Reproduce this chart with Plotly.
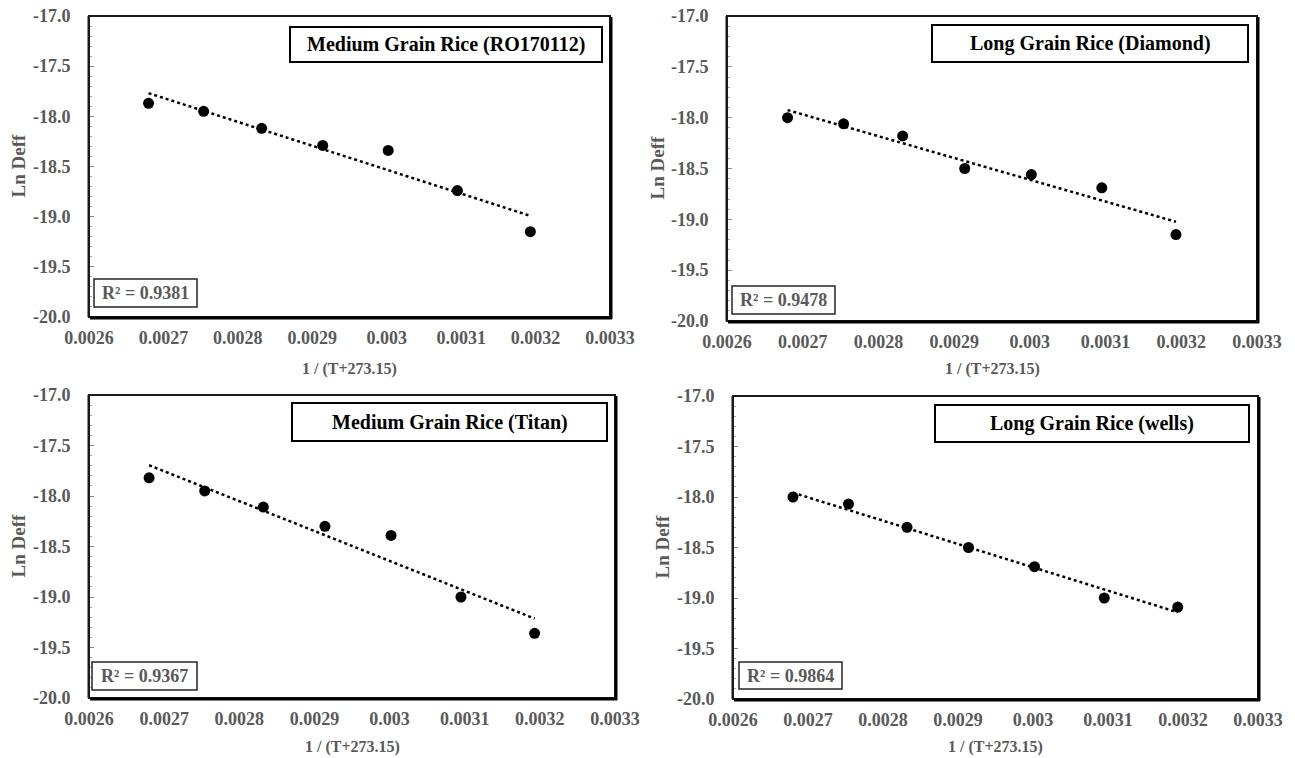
import numpy as np
import plotly.graph_objects as go

W, H = 1295, 758

# ---------------- data ----------------
inv_T = [0.002680, 0.002754, 0.002832, 0.002914, 0.003002, 0.003095, 0.003193]

titles = ["Medium Grain Rice (RO170112)", "Long Grain Rice (Diamond)",
          "Medium Grain Rice (Titan)", "Long Grain Rice (wells)"]

ln_deff_ro170112 = [-17.87, -17.95, -18.12, -18.29, -18.34, -18.74, -19.15]
ln_deff_diamond = [-18.00, -18.06, -18.18, -18.50, -18.56, -18.69, -19.15]
ln_deff_titan = [-17.82, -17.95, -18.11, -18.30, -18.39, -19.00, -19.36]
ln_deff_wells = [-18.00, -18.07, -18.30, -18.50, -18.69, -19.00, -19.09]

r2_labels = ["R² = 0.9381", "R² = 0.9478", "R² = 0.9367", "R² = 0.9864"]

x_ticks = [0.0026, 0.0027, 0.0028, 0.0029, 0.003, 0.0031, 0.0032, 0.0033]
x_tick_text = ["0.0026", "0.0027", "0.0028", "0.0029", "0.003", "0.0031", "0.0032", "0.0033"]
y_ticks = [-20.0, -19.5, -19.0, -18.5, -18.0, -17.5, -17.0]
y_tick_text = ["-20.0", "-19.5", "-19.0", "-18.5", "-18.0", "-17.5", "-17.0"]

series = [ln_deff_ro170112, ln_deff_diamond, ln_deff_titan, ln_deff_wells]

# ---------------- layout geometry (pixels) ----------------
plot_boxes = [(89, 610, 16, 317), (727, 1257, 16, 321),
              (89, 615, 395, 698), (733, 1258, 396, 699)]
title_boxes = [(290, 602, 27, 62), (932, 1248, 25, 62),
               (292, 607, 403, 441), (935, 1249, 405, 442)]
r2_boxes = [(94, 197, 279, 307), (732, 835, 286, 314),
            (92, 197, 662, 690), (739, 842, 662, 689)]
ytitle_x = [18, 657, 18, 662]
xtitle_y = [369, 369, 747, 747]

GRAY = "#595959"
FONT = "Liberation Serif, Times New Roman, serif"


def px(x):
    return x / W


def py(y):
    return 1 - y / H


def b(s):
    return f"<b>{s}</b>"


fig = go.Figure()
shapes = []
annotations = []

for i, yv in enumerate(series):
    n = i + 1
    xa = "x" if n == 1 else f"x{n}"
    ya = "y" if n == 1 else f"y{n}"
    x0, x1, y0, y1 = plot_boxes[i]

    # trend line (least squares from data)
    slope, icpt = np.polyfit(inv_T, yv, 1)
    xs = [min(inv_T), max(inv_T)]
    fig.add_trace(go.Scatter(x=xs, y=[slope * v + icpt for v in xs], mode="lines",
                             line=dict(color="black", width=2.5, dash="dot"),
                             xaxis=xa, yaxis=ya, showlegend=False, hoverinfo="skip"))
    fig.add_trace(go.Scatter(x=inv_T, y=yv, mode="markers",
                             marker=dict(color="black", size=11),
                             xaxis=xa, yaxis=ya, showlegend=False))

    axfont = dict(family=FONT, size=18, color=GRAY)
    fig.layout[f"xaxis{'' if n == 1 else n}"] = dict(
        domain=[px(x0), px(x1)], anchor=ya, range=[0.0026, 0.0033],
        tickvals=x_ticks, ticktext=[b(t) for t in x_tick_text], tickfont=axfont,
        showgrid=False, zeroline=False, showline=False, ticks="",
        ticklabelstandoff=8, automargin=False, fixedrange=True)
    fig.layout[f"yaxis{'' if n == 1 else n}"] = dict(
        domain=[py(y1), py(y0)], anchor=xa, range=[-20, -17],
        tickvals=y_ticks, ticktext=[b(t) for t in y_tick_text], tickfont=axfont,
        showgrid=False, zeroline=False, showline=True, linecolor="#8c8c8c", linewidth=2,
        ticks="inside", ticklen=5, tickcolor="#8c8c8c", tickwidth=1,
        minor=dict(dtick=0.1, ticks="inside", ticklen=3, tickcolor="#a6a6a6", tickwidth=1),
        ticklabelstandoff=13, automargin=False, fixedrange=True)

    # plot frame with shadowed right/bottom edges
    shapes.append(dict(type="rect", xref="paper", yref="paper",
                       x0=px(x0), x1=px(x1), y0=py(y1), y1=py(y0),
                       line=dict(color="#1a1a1a", width=2), layer="above"))
    shapes.append(dict(type="line", xref="paper", yref="paper",
                       x0=px(x1 + 1), x1=px(x1 + 1), y0=py(y1 + 2), y1=py(y0 + 1),
                       line=dict(color="black", width=3), layer="above"))
    shapes.append(dict(type="line", xref="paper", yref="paper",
                       x0=px(x0 + 1), x1=px(x1 + 2), y0=py(y1 + 1), y1=py(y1 + 1),
                       line=dict(color="black", width=3), layer="above"))

    # title box
    tx0, tx1, ty0, ty1 = title_boxes[i]
    shapes.append(dict(type="rect", xref="paper", yref="paper",
                       x0=px(tx0), x1=px(tx1), y0=py(ty1), y1=py(ty0),
                       line=dict(color="black", width=2), fillcolor="white", layer="above"))
    annotations.append(dict(text=b(titles[i]), xref="paper", yref="paper",
                            x=px((tx0 + tx1) / 2), y=py((ty0 + ty1) / 2),
                            xanchor="center", yanchor="middle", showarrow=False,
                            font=dict(family=FONT, size=20, color="black")))

    # R² box
    rx0, rx1, ry0, ry1 = r2_boxes[i]
    shapes.append(dict(type="rect", xref="paper", yref="paper",
                       x0=px(rx0), x1=px(rx1), y0=py(ry1), y1=py(ry0),
                       line=dict(color="#262626", width=1.5), fillcolor="white", layer="above"))
    annotations.append(dict(text=b(r2_labels[i]), xref="paper", yref="paper",
                            x=px((rx0 + rx1) / 2), y=py((ry0 + ry1) / 2),
                            xanchor="center", yanchor="middle", showarrow=False,
                            font=dict(family=FONT, size=18, color=GRAY)))

    # axis titles
    annotations.append(dict(text=b("Ln Deff"), xref="paper", yref="paper",
                            x=px(ytitle_x[i]), y=py((y0 + y1) / 2), textangle=-90,
                            xanchor="center", yanchor="middle", showarrow=False,
                            font=dict(family=FONT, size=19, color=GRAY)))
    annotations.append(dict(text=b("1 / (T+273.15)"), xref="paper", yref="paper",
                            x=px((x0 + x1) / 2), y=py(xtitle_y[i]),
                            xanchor="center", yanchor="middle", showarrow=False,
                            font=dict(family=FONT, size=16, color=GRAY)))

fig.update_layout(width=W, height=H, margin=dict(l=0, r=0, t=0, b=0, autoexpand=False),
                  paper_bgcolor="white", plot_bgcolor="white",
                  shapes=shapes, annotations=annotations, showlegend=False)

fig.write_html("out.html")
